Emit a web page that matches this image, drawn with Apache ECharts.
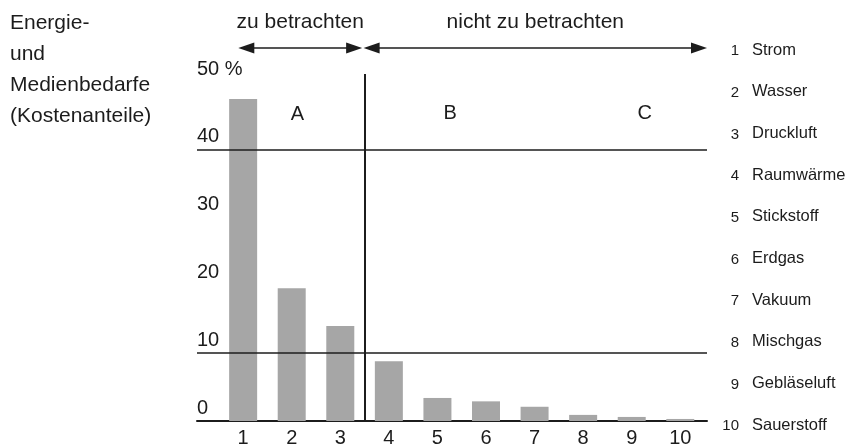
<!DOCTYPE html>
<html>
<head>
<meta charset="utf-8">
<script src="https://cdn.jsdelivr.net/npm/echarts@6/dist/echarts.min.js"></script>
<style>
  html, body { margin: 0; padding: 0; background: #fff; }
  #chart { width: 852px; height: 448px; }
</style>
</head>
<body>
<div id="chart"></div>
<script>
// Energy and media demand: cost shares per medium (ABC analysis)
const categories = [1, 2, 3, 4, 5, 6, 7, 8, 9, 10];
const mediaNames = ['Strom', 'Wasser', 'Druckluft', 'Raumwärme', 'Stickstoff',
                    'Erdgas', 'Vakuum', 'Mischgas', 'Gebläseluft', 'Sauerstoff'];
const costShares = [47.5, 19.6, 14.0, 8.8, 3.4, 2.9, 2.1, 0.9, 0.6, 0.3];
const yTickValues = [0, 10, 20, 30, 40, 50];
const classLimits = [10, 40];
const splitPosition = 3.5;
const classLabels = [
  { text: 'A', x: 2.12, y: 45.2 },
  { text: 'B', x: 5.26, y: 45.4 },
  { text: 'C', x: 9.27, y: 45.4 }
];
const ranges = [
  { text: 'zu betrachten', from: 0.9, to: 3.45 },
  { text: 'nicht zu betrachten', from: 3.48, to: 10.55 }
];
const titleLines = ['Energie-', 'und', 'Medienbedarfe', '(Kostenanteile)'];

const FONT = '"Liberation Sans", Arial, Helvetica, sans-serif';
const INK = '#1c1c1c';

const chart = echarts.init(document.getElementById('chart'), null, { renderer: 'canvas' });

chart.setOption({
  animation: false,
  backgroundColor: '#ffffff',
  grid: { left: 197, right: 145, top: 74, bottom: 24, containLabel: false },
  xAxis: {
    type: 'value',
    min: 0.05,
    max: 10.55,
    axisLine: { show: true, lineStyle: { color: INK, width: 2 } },
    axisTick: { show: false },
    splitLine: { show: false },
    axisLabel: {
      customValues: categories,
      color: INK,
      fontFamily: FONT,
      fontSize: 20,
      margin: 7
    }
  },
  yAxis: {
    type: 'value',
    min: 0,
    max: 51.2,
    axisLine: { show: false },
    axisTick: { show: false },
    splitLine: { show: false },
    axisLabel: {
      customValues: yTickValues,
      inside: true,
      margin: 0,
      align: 'left',
      verticalAlign: 'bottom',
      padding: [0, 0, 3, 0],
      color: INK,
      fontFamily: FONT,
      fontSize: 20,
      formatter: v => (v === 50 ? '50 %' : String(v))
    }
  },
  series: [{
    type: 'bar',
    data: categories.map((c, i) => [c, costShares[i]]),
    barWidth: 28,
    itemStyle: { color: '#a6a6a6' },
    markLine: {
      silent: true,
      symbol: 'none',
      label: { show: false },
      lineStyle: { color: INK, type: 'solid', width: 1.5 },
      data: classLimits.map(v => ({ yAxis: v }))
        .concat([{ xAxis: splitPosition, lineStyle: { color: INK, type: 'solid', width: 2 } }])
    }
  }]
});

// Annotations placed through the grid's coordinate system
const toPx = (x, y) => chart.convertToPixel({ gridIndex: 0 }, [x, y]);
const graphics = [];

// Title on the left
titleLines.forEach((line, i) => {
  graphics.push({
    type: 'text', x: 10, y: 23 + i * 31.2,
    style: { text: line, fill: INK, font: '21px ' + FONT, textAlign: 'left', textVerticalAlign: 'middle' }
  });
});

// Range arrows with captions
const arrowY = 48;
ranges.forEach(r => {
  const x1 = toPx(r.from, 0)[0];
  const x2 = toPx(r.to, 0)[0];
  graphics.push({
    type: 'line', shape: { x1: x1 + 8, y1: arrowY, x2: x2 - 8, y2: arrowY },
    style: { stroke: INK, lineWidth: 1.6 }
  });
  graphics.push({
    type: 'polygon', shape: { points: [[x1, arrowY], [x1 + 16, arrowY - 5.5], [x1 + 16, arrowY + 5.5]] },
    style: { fill: INK }
  });
  graphics.push({
    type: 'polygon', shape: { points: [[x2, arrowY], [x2 - 16, arrowY - 5.5], [x2 - 16, arrowY + 5.5]] },
    style: { fill: INK }
  });
  graphics.push({
    type: 'text', x: (x1 + x2) / 2, y: 22,
    style: { text: r.text, fill: INK, font: '21px ' + FONT, textAlign: 'center', textVerticalAlign: 'middle' }
  });
});

// Class letters A / B / C
classLabels.forEach(c => {
  const p = toPx(c.x, c.y);
  graphics.push({
    type: 'text', x: p[0], y: p[1],
    style: { text: c.text, fill: INK, font: '20px ' + FONT, textAlign: 'center', textVerticalAlign: 'middle' }
  });
});

// Key of media on the right
mediaNames.forEach((name, i) => {
  const y = 50 + i * 41.7;
  graphics.push({
    type: 'text', x: 739, y: y + 1,
    style: { text: String(categories[i]), fill: INK, font: '15px ' + FONT, textAlign: 'right', textVerticalAlign: 'middle' }
  });
  graphics.push({
    type: 'text', x: 752, y: y,
    style: { text: name, fill: INK, font: '16.5px ' + FONT, textAlign: 'left', textVerticalAlign: 'middle' }
  });
});

chart.setOption({ graphic: graphics });
</script>
</body>
</html>
